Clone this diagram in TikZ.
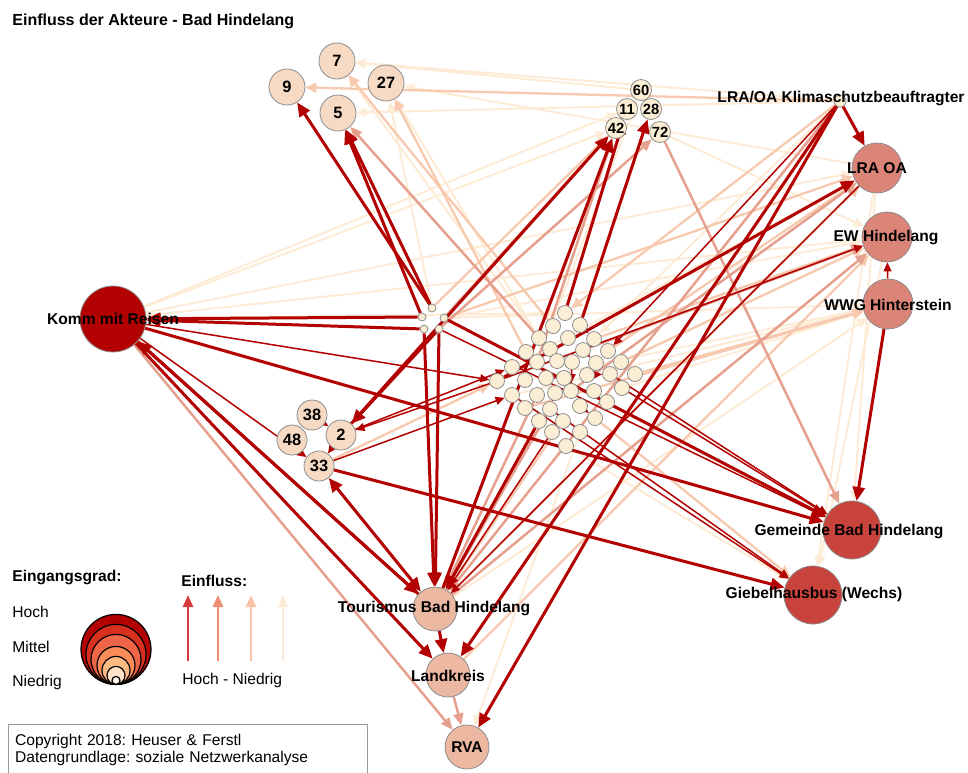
\documentclass[tikz,border=0pt]{standalone}
\usepackage{fontspec}
\setmainfont{Liberation Sans}
\usetikzlibrary{arrows.meta}
\frenchspacing

\definecolor{dkRed}{HTML}{B30000}
\definecolor{mdRed}{HTML}{E6A08E}
\definecolor{ltRed}{HTML}{F7C9AE}
\definecolor{vlRed}{HTML}{FDEBD6}
\definecolor{kommFill}{HTML}{B30000}
\definecolor{gemFill}{HTML}{C8433B}
\definecolor{lraFill}{HTML}{DB8478}
\definecolor{tourFill}{HTML}{EDB8A2}
\definecolor{numFill}{HTML}{F6DAC4}
\definecolor{smallFill}{HTML}{FCEED4}
\definecolor{legA}{HTML}{D43A3A}
\definecolor{legB}{HTML}{EE8C73}
\definecolor{legC}{HTML}{F9C3A7}
\definecolor{legD}{HTML}{FDEBDA}
\definecolor{degA}{HTML}{B30000}
\definecolor{degB}{HTML}{D7301F}
\definecolor{degC}{HTML}{EF6548}
\definecolor{degD}{HTML}{FC8D59}
\definecolor{degE}{HTML}{FDBB84}
\definecolor{degF}{HTML}{FEE3C8}
\definecolor{degG}{HTML}{FFF7EC}

\pgfdeclarelayer{edges}
\pgfsetlayers{edges,main}

\begin{document}
\begin{tikzpicture}[
  x=0.5pt, y=-0.5pt,
  actorNode/.style  ={circle, draw=black!45, line width=0.4pt, inner sep=0pt},
  numNode/.style    ={actorNode, fill=numFill, minimum size=18pt, font=\bfseries\fontsize{8.2}{9}\selectfont},
  tinyNumNode/.style={actorNode, fill=smallFill, minimum size=10.5pt, font=\bfseries\fontsize{7.4}{8}\selectfont},
  dotNode/.style    ={actorNode, fill=smallFill, minimum size=4pt},
  clusterNode/.style={actorNode, fill=smallFill, minimum size=7.5pt},
  nameLabel/.style  ={font=\bfseries\fontsize{7.8}{9}\selectfont, inner sep=0pt},
  legendText/.style ={font=\fontsize{7.8}{9}\selectfont, anchor=west, inner sep=0pt},
  legendHead/.style ={font=\bfseries\fontsize{7.8}{9}\selectfont, anchor=west, inner sep=0pt},
  dkArrow/.style    ={-{Triangle[length=7pt,width=6pt]}, line width=1.5pt, draw=dkRed},
  dkBoth/.style     ={{Triangle[length=7pt,width=6pt]}-{Triangle[length=7pt,width=6pt]}, line width=1.5pt, draw=dkRed},
  dkThin/.style     ={-{Triangle[length=4.5pt,width=4pt]}, line width=0.75pt, draw=dkRed},
  mdArrow/.style    ={-{Triangle[length=6pt,width=5pt]}, line width=1.25pt, draw=mdRed},
  ltArrow/.style    ={-{Triangle[length=5.5pt,width=5pt]}, line width=1.15pt, draw=ltRed},
  vlArrow/.style    ={-{Triangle[length=5pt,width=4.5pt]}, line width=1pt, draw=vlRed},
  legendArrow/.style={-{Triangle[length=6pt,width=5pt]}, line width=1.4pt}
]
\useasboundingbox (0,0) rectangle (968,772);

\node[legendHead, font=\bfseries\fontsize{8}{9}\selectfont] (title) at (12,21) {Einfluss der Akteure - Bad Hindelang};

% ================== MAIN ACTORS ==================
\node[actorNode, fill=kommFill, minimum size=33pt] (komm) at (113,319) {};
\node[actorNode, fill=gemFill, minimum size=29pt] (gemeinde) at (852,530) {};
\node[actorNode, fill=gemFill, minimum size=29pt] (giebel) at (813,595) {};
\node[actorNode, fill=lraFill, minimum size=25pt] (lraoa) at (877,168) {};
\node[actorNode, fill=lraFill, minimum size=25pt] (ew) at (887,237) {};
\node[actorNode, fill=lraFill, minimum size=25pt] (wwg) at (888,304) {};
\node[actorNode, fill=smallFill, minimum size=6pt] (klima) at (840,101) {};
\node[actorNode, fill=tourFill, minimum size=22pt] (tour) at (435,609) {};
\node[actorNode, fill=tourFill, minimum size=22pt] (lk) at (448,675) {};
\node[actorNode, fill=tourFill, minimum size=22pt] (rva) at (467,747) {};

% ================== NUMBERED ACTORS ==================
\node[numNode] (n7)  at (337,61)  {7};
\node[numNode] (n9)  at (287,87)  {9};
\node[numNode] (n27) at (386,83)  {27};
\node[numNode] (n5)  at (338,113) {5};
\node[numNode, minimum size=15pt] (n38) at (312,415) {38};
\node[numNode, minimum size=15pt] (n48) at (292,440) {48};
\node[numNode, minimum size=15pt] (n2)  at (341,435) {2};
\node[numNode, minimum size=15pt] (n33) at (319,466) {33};

\node[tinyNumNode] (n60) at (641,90)  {60};
\node[tinyNumNode] (n11) at (627,109) {11};
\node[tinyNumNode] (n28) at (651,109) {28};
\node[tinyNumNode] (n42) at (616,128) {42};
\node[tinyNumNode] (n72) at (660,132) {72};

% small dots left of the cluster
\foreach \n/\x/\y in {1/422/317, 2/432/308, 3/444/318, 4/424/329, 5/439/329}
  \node[dotNode] (s\n) at (\x,\y) {};

% ================== CLUSTER ==================
\foreach \n/\x/\y in {1/565/313, 2/553/326, 3/580/325, 4/539/338, 5/568/338,
    6/594/339, 7/526/352, 8/550/349, 9/583/350, 10/608/351,
    11/512/367, 12/537/362, 13/557/361, 14/572/362, 15/596/363,
    16/621/362, 17/497/381, 18/525/380, 19/546/378, 20/564/378,
    21/587/375, 22/610/374, 23/635/374, 24/512/395, 25/537/395,
    26/555/393, 27/571/391, 28/594/391, 29/622/388, 30/525/408,
    31/550/409, 32/580/406, 33/607/402, 34/539/421, 35/563/421,
    36/595/418, 37/552/432, 38/580/432, 39/566/446}
  \node[clusterNode] (c\n) at (\x,\y) {};

% ================== EDGES (behind the nodes) ==================
\begin{pgfonlayer}{edges}
% very weak influence
\foreach \a/\b in {klima/n7, klima/n5, lraoa/n27, komm/lraoa, komm/n42, komm/n11,
    komm/c1, c17/ew, c11/lraoa, s3/wwg, c24/wwg, lraoa/giebel, ew/giebel,
    c38/rva, n72/ew, c4/n27, s2/n27, c29/wwg, s3/ew, tour/wwg, lraoa/gemeinde,
    c39/giebel, klima/c6, c18/wwg, c12/n60, komm/ew, n60/n7, c13/n7}
  \draw[vlArrow] (\a) -- (\b);
% weak influence
\foreach \a/\b in {klima/n9, c2/n7, s2/n42, c10/lraoa, c6/ew, c16/ew, c23/wwg,
    s3/lraoa, tour/lraoa, klima/c1, c36/giebel, lk/ew, c35/tour, n33/c17,
    c30/wwg, c7/n27}
  \draw[ltArrow] (\a) -- (\b);
% medium influence
\foreach \a/\b in {c4/n5, n72/gemeinde, s3/n42, s5/n72, komm/rva, lk/rva,
    tour/ew, klima/tour, c31/tour, c25/tour, c12/n42, c27/lraoa, c9/ew}
  \draw[mdArrow] (\a) -- (\b);
% strong influence
\foreach \a/\b in {s2/n9, s1/n5, s2/n5, s1/komm, s4/komm, komm/gemeinde,
    tour/komm, komm/tour, komm/lk, n33/giebel, s5/n2, n2/n42, s4/tour,
    s5/tour, s3/gemeinde, klima/lraoa, klima/rva, klima/lk, wwg/gemeinde,
    tour/lk, c1/n11, c3/n28, tour/n42, c34/tour, c17/lraoa}
  \draw[dkArrow] (\a) -- (\b);
\draw[dkBoth] (n33) -- (tour);
\foreach \a/\b in {komm/c17, c17/n2, n38/n2, n2/n33, komm/n33, c29/gemeinde,
    c33/gemeinde, c22/gemeinde, c24/giebel, c31/giebel, n2/c11, n33/c24,
    c37/tour, c17/ew, klima/c10, lraoa/tour, wwg/ew, s5/gemeinde,
    c7/c12, c19/c20, c14/c27, c21/c22, c32/c36, c9/c15, c3/c6, c26/c31}
  \draw[dkThin] (\a) -- (\b);
\end{pgfonlayer}

% ================== LABELS ==================
\node[nameLabel] (kommL)     at (komm)     {Komm mit Reisen};
\node[nameLabel] (gemeindeL) at (849,531)  {Gemeinde Bad Hindelang};
\node[nameLabel] (giebelL)   at (814,594)  {Giebelhausbus (Wechs)};
\node[nameLabel] (lraoaL)    at (lraoa)    {LRA OA};
\node[nameLabel] (ewL)       at (886,237)  {EW Hindelang};
\node[nameLabel] (wwgL)      at (888,305)  {WWG Hinterstein};
\node[nameLabel] (klimaL)    at (841,98)   {LRA/OA Klimaschutzbeauftragter};
\node[nameLabel] (tourL)     at (434,608)  {Tourismus Bad Hindelang};
\node[nameLabel] (lkL)       at (448,676)  {Landkreis};
\node[nameLabel] (rvaL)      at (rva)      {RVA};

% ================== LEGEND ==================
\node[legendHead] (degHead) at (12,577) {Eingangsgrad:};
\node[legendText] (hoch)    at (12,612) {Hoch};
\node[legendText] (mittel)  at (12,647) {Mittel};
\node[legendText] (niedrig) at (12,682) {Niedrig};

\coordinate (degBase) at (116,685);
\foreach \s/\c in {35/degA, 30/degB, 25/degC, 19/degD, 14/degE, 9/degF, 4/degG}
  \node[circle, draw=black, line width=0.6pt, fill=\c, minimum size=\s pt,
        inner sep=0pt, anchor=south] at (degBase) {};

\node[legendHead] (inflHead) at (181,581) {Einfluss:};
\foreach \i/\x/\c in {1/188/legA, 2/218/legB, 3/251/legC, 4/283/legD} {
  \coordinate (legLo\i) at (\x,661);
  \coordinate (legHi\i) at (\x,595);
  \draw[legendArrow, draw=\c, fill=\c] (legLo\i) -- (legHi\i);
}
\node[legendText] (range) at (182,680) {Hoch - Niedrig};

\node[draw=black!40, line width=0.6pt, anchor=north west, align=left,
      text width=173pt, inner xsep=3.25pt, minimum height=25pt,
      font=\fontsize{7.8}{8.6}\selectfont] (copy) at (8,724)
  {Copyright 2018: Heuser \& Ferstl\\Datengrundlage: soziale Netzwerkanalyse};

\end{tikzpicture}
\end{document}
